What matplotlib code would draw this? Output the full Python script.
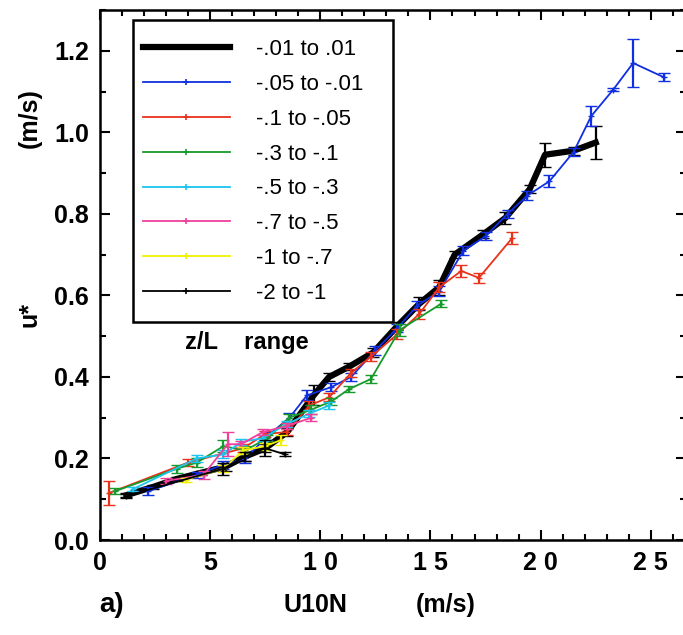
import matplotlib
matplotlib.use('Agg')
import matplotlib.pyplot as plt
from matplotlib.lines import Line2D
from matplotlib.patches import Rectangle
from matplotlib.ticker import MultipleLocator, FixedLocator

plt.rcParams['font.family'] = ['Liberation Sans', 'DejaVu Sans']

# z/L bins: U10N (m/s), u* (m/s), error half-width
labels = ['-.01 to .01', '-.05 to -.01', '-.1 to -.05', '-.3 to -.1',
          '-.5 to -.3', '-.7 to -.5', '-1 to -.7', '-2 to -1']
colors = ['black', '#0f2fe0', '#e8321a', '#179a2c', '#1cc4f0', '#f0409c', '#f2f000', 'black']

x_neutral = [1.2, 2.4, 3.5, 4.6, 5.7, 6.6, 7.5, 8.5, 9.7, 10.4, 11.3, 12.4, 13.5, 14.5,
             15.4, 16.1, 17.4, 18.4, 19.5, 20.2, 21.5, 22.5]
y_neutral = [0.11, 0.13, 0.15, 0.165, 0.18, 0.205, 0.225, 0.265, 0.355, 0.40, 0.425, 0.46,
             0.525, 0.58, 0.62, 0.70, 0.75, 0.79, 0.86, 0.945, 0.955, 0.975]
e_neutral = [0.005, 0.005, 0.005, 0.005, 0.01, 0.01, 0.01, 0.01, 0.025, 0.01, 0.008, 0.012,
             0.01, 0.015, 0.018, 0.008, 0.01, 0.015, 0.01, 0.03, 0.01, 0.04]

x_blue = [2.2, 4.4, 5.6, 6.6, 7.6, 8.6, 9.4, 10.5, 11.4, 12.5, 13.5, 14.4, 15.4, 16.5,
          17.5, 18.5, 19.4, 20.4, 21.5, 22.3, 23.3, 24.2, 25.6]
y_blue = [0.12, 0.16, 0.185, 0.20, 0.255, 0.30, 0.355, 0.375, 0.40, 0.465, 0.52, 0.575,
          0.61, 0.71, 0.745, 0.80, 0.845, 0.88, 0.952, 1.04, 1.105, 1.17, 1.135]
e_blue = [0.01, 0.008, 0.01, 0.01, 0.01, 0.012, 0.012, 0.01, 0.01, 0.01, 0.01, 0.012,
          0.012, 0.01, 0.01, 0.01, 0.01, 0.015, 0.01, 0.025, 0.003, 0.06, 0.01]

x_red = [0.4, 4.0, 6.5, 7.5, 8.5, 9.5, 10.4, 11.4, 12.3, 13.5, 14.5, 15.4, 16.4, 17.2, 18.7]
y_red = [0.115, 0.19, 0.225, 0.26, 0.265, 0.33, 0.35, 0.41, 0.45, 0.505, 0.555, 0.62,
         0.66, 0.643, 0.74]
e_red = [0.03, 0.008, 0.01, 0.008, 0.008, 0.01, 0.01, 0.01, 0.012, 0.012, 0.012, 0.012,
         0.015, 0.012, 0.015]

x_green = [0.7, 3.5, 4.4, 5.6, 6.6, 7.6, 8.6, 9.6, 10.5, 11.3, 12.3, 13.6, 15.5]
y_green = [0.12, 0.175, 0.19, 0.23, 0.22, 0.25, 0.30, 0.32, 0.34, 0.37, 0.395, 0.515, 0.58]
e_green = [0.008, 0.01, 0.01, 0.015, 0.01, 0.008, 0.008, 0.01, 0.008, 0.008, 0.01, 0.015, 0.008]

x_cyan = [1.5, 4.4, 5.6, 6.4, 7.4, 8.5, 9.5, 10.4]
y_cyan = [0.125, 0.20, 0.21, 0.24, 0.25, 0.285, 0.31, 0.33]
e_cyan = [0.005, 0.008, 0.01, 0.008, 0.008, 0.008, 0.008, 0.008]

x_pink = [3.0, 4.7, 5.8, 6.4, 7.4, 8.5, 9.6]
y_pink = [0.145, 0.16, 0.235, 0.235, 0.265, 0.28, 0.30]
e_pink = [0.008, 0.01, 0.03, 0.008, 0.008, 0.008, 0.008]

x_yellow = [3.9, 5.6, 6.5, 7.5, 8.2]
y_yellow = [0.148, 0.175, 0.22, 0.23, 0.245]
e_yellow = [0.005, 0.008, 0.008, 0.008, 0.012]

x_unst = [1.2, 5.6, 6.6, 7.5, 8.4]
y_unst = [0.108, 0.175, 0.205, 0.225, 0.21]
e_unst = [0.005, 0.015, 0.01, 0.02, 0.005]

series = [(x_neutral, y_neutral, e_neutral), (x_blue, y_blue, e_blue),
          (x_red, y_red, e_red), (x_green, y_green, e_green),
          (x_cyan, y_cyan, e_cyan), (x_pink, y_pink, e_pink),
          (x_yellow, y_yellow, e_yellow), (x_unst, y_unst, e_unst)]

fig = plt.figure(figsize=(6.83, 6.35), dpi=100)
# right spine sits just past the image edge, as in the original scan
ax = fig.add_axes([0.1464, 0.1496, 0.8580, 0.8346])

handles = []
for i, ((xs, ys, es), c, lab) in enumerate(zip(series, colors, labels)):
    lw = 4.5 if i == 0 else 1.3
    ax.errorbar(xs, ys, yerr=es, color=c, lw=lw, elinewidth=1.6, capsize=4,
                capthick=1.6, marker=None if i == 0 else '+', ms=4, mew=1.0,
                zorder=2 + i)
    handles.append(Line2D([], [], color=c, lw=lw,
                          marker=None if i == 0 else '+', ms=5, mew=1.2))

ax.set_xlim(0, 26.6)
ax.set_ylim(0, 1.3)
ax.xaxis.set_major_locator(FixedLocator([0, 5, 10, 15, 20, 25]))
ax.set_xticklabels(['0', '5', '1 0', '1 5', '2 0', '2 5'])
ax.xaxis.set_minor_locator(MultipleLocator(1))
ax.yaxis.set_major_locator(MultipleLocator(0.2))
ax.yaxis.set_minor_locator(MultipleLocator(0.1))
ax.yaxis.set_major_formatter(plt.FormatStrFormatter('%.1f'))
ax.tick_params(which='both', direction='in', top=True, right=True, width=1.5)
ax.tick_params(which='major', length=7, labelsize=18, pad=8)
ax.tick_params(which='minor', length=4)
for t in ax.get_xticklabels() + ax.get_yticklabels():
    t.set_fontweight('bold')
for s in ax.spines.values():
    s.set_linewidth(1.8)

# axis titles, spaced like the original
ax.text(0.368, -0.123, 'U10N', transform=ax.transAxes, fontsize=18,
        fontweight='bold', ha='center', va='center')
ax.text(0.59, -0.123, '(m/s)', transform=ax.transAxes, fontsize=18,
        fontweight='bold', ha='center', va='center')
ax.text(-0.12, 0.425, 'u*', transform=ax.transAxes, fontsize=18,
        fontweight='bold', ha='center', va='center', rotation=90)
ax.text(-0.12, 0.796, '(m/s)', transform=ax.transAxes, fontsize=18,
        fontweight='bold', ha='center', va='center', rotation=90)

ax.text(3.85, 0.485, 'z/L    range', fontsize=17, fontweight='bold', va='center')
fig.text(0.145, 0.047, 'a)', fontsize=20, fontweight='bold', va='center')

# legend box drawn separately so the padding matches the original
ax.add_patch(Rectangle((0.0563, 0.411), 0.4437, 0.570, transform=ax.transAxes,
                       fill=True, facecolor='white', edgecolor='black', lw=1.8,
                       zorder=20))
leg = ax.legend(handles, labels, loc='upper left', bbox_to_anchor=(0.0735, 0.945),
                borderaxespad=0, borderpad=0, fontsize=16, handlelength=3.9,
                handletextpad=1.2, labelspacing=0.62, frameon=False)
leg.set_zorder(21)

plt.savefig('out.png', dpi=100)
plt.close()
